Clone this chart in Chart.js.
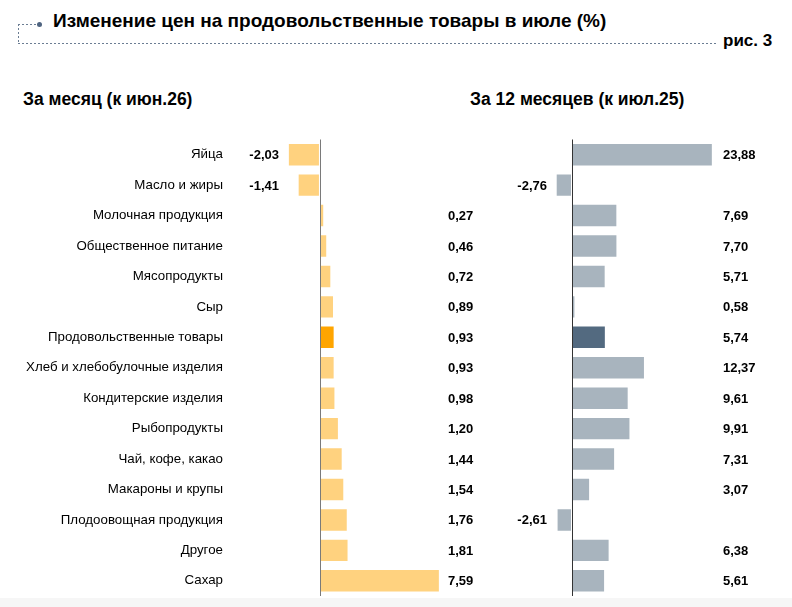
<!DOCTYPE html>
<html>
<head>
<meta charset="utf-8">
<script src="https://cdn.jsdelivr.net/npm/chart.js@4.4.1/dist/chart.umd.min.js"></script>
<style>
  html, body { margin: 0; padding: 0; background: #fff; }
  body { width: 792px; height: 607px; position: relative; overflow: hidden;
         font-family: "Liberation Sans", Arial, sans-serif; color: #000; }
  .dash-h { position: absolute; height: 1px;
            background: repeating-linear-gradient(to right, #6b7d93 0 2px, transparent 2px 4px); }
  .dash-v { position: absolute; width: 1px;
            background: repeating-linear-gradient(to bottom, #6b7d93 0 2px, transparent 2px 4px); }
  .dot { position: absolute; width: 5px; height: 5px; border-radius: 50%; background: #4f6480; }
  .title { position: absolute; left: 53px; top: 10px; font-size: 19px; font-weight: bold; white-space: nowrap; }
  .fig { position: absolute; left: 723px; top: 31px; font-size: 17px; font-weight: bold; }
  .sub { position: absolute; top: 89px; font-size: 17.5px; font-weight: bold; white-space: nowrap; }
  .chart { position: absolute; top: 130px; height: 470px; }
  .footer { position: absolute; left: 0; top: 598px; width: 792px; height: 9px; background: #f6f6f6; }
</style>
</head>
<body>
<div class="dash-v" style="left:18px; top:24px; height:20px;"></div>
<div class="dash-h" style="left:18px; top:24px; width:18px;"></div>
<div class="dot" style="left:37px; top:22px;"></div>
<div class="dash-h" style="left:18px; top:43px; width:699px;"></div>
<div class="title">Изменение цен на продовольственные товары в июле (%)</div>
<div class="fig">рис. 3</div>
<div class="sub" style="left:23px;">За месяц (к июн.26)</div>
<div class="sub" style="left:470px;">За 12 месяцев (к июл.25)</div>

<div class="chart" style="left:0; width:480px;"><canvas id="monthChart"></canvas></div>
<div class="chart" style="left:490px; width:302px;"><canvas id="yearChart"></canvas></div>
<div class="footer"></div>

<script>
    const categories = [
        'Яйца', 'Масло и жиры', 'Молочная продукция', 'Общественное питание',
        'Мясопродукты', 'Сыр', 'Продовольственные товары', 'Хлеб и хлебобулочные изделия',
        'Кондитерские изделия', 'Рыбопродукты', 'Чай, кофе, какао', 'Макароны и крупы',
        'Плодоовощная продукция', 'Другое', 'Сахар'
    ];
    const monthValues = [-2.03, -1.41, 0.27, 0.46, 0.72, 0.89, 0.93, 0.93, 0.98, 1.20, 1.44, 1.54, 1.76, 1.81, 7.59];
    const yearValues = [23.88, -2.76, 7.69, 7.70, 5.71, 0.58, 5.74, 12.37, 9.61, 9.91, 7.31, 3.07, -2.61, 6.38, 5.61];
    const highlightIndex = 6; // 'Продовольственные товары'

    const fmt = v => v.toFixed(2).replace('.', ',');

    // zero line, category names and value labels at fixed offsets from zero
    const valueLabels = {
        id: 'valueLabels',
        afterDatasetsDraw(chart, args, opts) {
            const ctx = chart.ctx;
            const area = chart.chartArea;
            const zero = chart.scales.x.getPixelForValue(0);
            const meta = chart.getDatasetMeta(0);
            ctx.save();
            ctx.strokeStyle = opts.axisColor;
            ctx.lineWidth = 1;
            ctx.beginPath();
            ctx.moveTo(Math.round(zero) + 0.5, area.top);
            ctx.lineTo(Math.round(zero) + 0.5, area.bottom);
            ctx.stroke();

            ctx.fillStyle = '#000';
            ctx.textBaseline = 'middle';
            if (opts.catOffset) {
                ctx.font = '13.3px "Liberation Sans", Arial, sans-serif';
                ctx.textAlign = 'right';
                chart.data.labels.forEach((lab, i) => {
                    ctx.fillText(lab, zero - opts.catOffset, meta.data[i].y);
                });
            }

            ctx.font = 'bold 13px "Liberation Sans", Arial, sans-serif';
            chart.data.datasets[0].data.forEach((v, i) => {
                const y = meta.data[i].y + 1;
                if (v >= 0) {
                    ctx.textAlign = 'left';
                    ctx.fillText(fmt(v), zero + opts.posOffset, y);
                } else {
                    ctx.textAlign = 'right';
                    ctx.fillText(fmt(v), zero - opts.negOffset, y);
                }
            });
            ctx.restore();
        }
    };

    function makeChart(id, values, colors, xMin, xMax, labelOpts) {
        const ctx = document.getElementById(id).getContext('2d');
        return new Chart(ctx, {
            type: 'bar',
            data: {
                labels: categories,
                datasets: [{
                    data: values,
                    backgroundColor: values.map((v, i) => i === highlightIndex ? colors[1] : colors[0]),
                    borderColor: 'rgba(255,255,255,0.55)',
                    borderWidth: 1,
                    borderSkipped: false,
                    barPercentage: 0.77,
                    categoryPercentage: 1
                }]
            },
            options: {
                indexAxis: 'y',
                responsive: true,
                maintainAspectRatio: false,
                animation: false,
                layout: { padding: { top: 9.5, bottom: 4, left: 0, right: 0 } },
                scales: {
                    x: { display: false, min: xMin, max: xMax },
                    y: { display: false }
                },
                plugins: {
                    legend: { display: false },
                    tooltip: { enabled: false },
                    valueLabels: labelOpts
                }
            },
            plugins: [valueLabels]
        });
    }

    // left chart: zero at x=320, ~15.8 px per point
    makeChart('monthChart', monthValues, ['#FFD27F', '#FFA500'], -20.25, 10.13,
        { axisColor: '#7a7a7a', posOffset: 128, negOffset: 41, catOffset: 97 });
    // right chart: zero at x=572, ~5.9 px per point
    makeChart('yearChart', yearValues, ['#A8B4BE', '#536A80'], -13.9, 37.3,
        { axisColor: '#333', posOffset: 151, negOffset: 25 });
</script>
</body>
</html>
